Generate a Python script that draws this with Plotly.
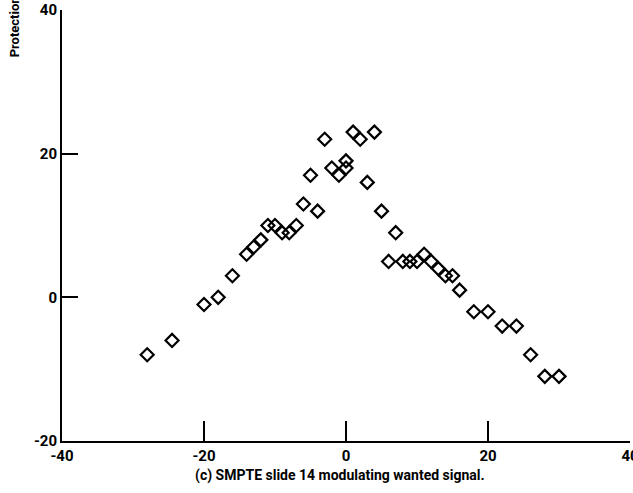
import plotly.graph_objects as go

# Data
x_vals = [-28, -24.5, -20, -18, -16, -14, -13, -12, -11, -10, -9, -8, -7, -6, -5, -4,
          -3, -2, -1, 0, 0, 1, 2, 3, 4, 5, 6, 7, 8, 9, 10, 11, 12, 13, 14, 15, 16,
          18, 20, 22, 24, 26, 28, 30]
y_vals = [-8, -6, -1, 0, 3, 6, 7, 8, 10, 10, 9, 9, 10, 13, 17, 12,
          22, 18, 17, 18, 19, 23, 22, 16, 23, 12, 5, 9, 5, 5, 5, 6, 5, 4, 3, 3, 1,
          -2, -2, -4, -4, -8, -11, -11]
x_ticks = [-40, -20, 0, 20, 40]
y_ticks = [-20, 0, 20, 40]
y_title = "Protection ratio, dB"
caption = "(c) SMPTE slide 14 modulating wanted signal."

font_family = "Roboto, Liberation Sans, sans-serif"

fig = go.Figure()
fig.add_trace(go.Scatter(
    x=x_vals, y=y_vals, mode="markers",
    marker=dict(symbol="diamond-open", size=10, color="black",
                line=dict(width=2.2, color="black")),
    showlegend=False, cliponaxis=False,
))

fig.update_layout(
    width=633, height=493,
    margin=dict(l=62, r=3, t=10, b=52, autoexpand=False),
    plot_bgcolor="white", paper_bgcolor="white",
    font=dict(family=font_family, color="black", size=14),
    xaxis=dict(range=[-40, 40], tickvals=x_ticks, ticktext=[str(v) for v in x_ticks],
               showgrid=False, zeroline=False, showline=True, linecolor="black",
               linewidth=2, ticks="inside", ticklen=20, tickwidth=2, tickcolor="black",
               ticklabeloverflow="allow", automargin=False,
               tickfont=dict(size=15, family=font_family, weight="bold"), fixedrange=True),
    yaxis=dict(range=[-20, 40], tickvals=y_ticks, ticktext=[str(v) for v in y_ticks],
               showgrid=False, zeroline=False, showline=True, linecolor="black",
               linewidth=2, ticks="inside", ticklen=16, tickwidth=2, tickcolor="black",
               ticklabeloverflow="allow", automargin=False,
               tickfont=dict(size=15, family=font_family, weight="bold"), fixedrange=True),
    annotations=[
        dict(text=y_title, xref="paper", yref="paper", x=-0.084, y=0.885,
             xanchor="center", yanchor="bottom", textangle=-90, showarrow=False,
             font=dict(size=13, family=font_family, weight="bold")),
        dict(text=caption, xref="paper", yref="paper", x=0.49, y=-0.08,
             xanchor="center", yanchor="middle", showarrow=False,
             font=dict(size=14, family=font_family, weight="bold")),
    ],
)

fig.write_html("out.html")
